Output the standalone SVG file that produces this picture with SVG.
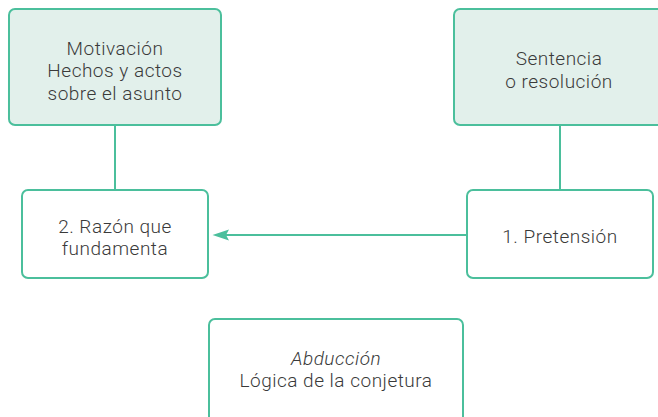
<svg xmlns="http://www.w3.org/2000/svg" width="658" height="417" viewBox="0 0 658 417">
<style>
.box{stroke:#4bbf9c;stroke-width:2;}
.fill{fill:#e2f0eb;}
.white{fill:#ffffff;}
.t{font-family:Roboto,"Liberation Sans",sans-serif;font-weight:300;font-size:19px;fill:#3a3a3a;text-anchor:middle;letter-spacing:0.5px;}
.line{stroke:#4bbf9c;stroke-width:2;fill:none;}
</style>
<rect width="658" height="417" fill="#ffffff"/>
<g id="connectors">
<line class="line" x1="115" y1="125" x2="115" y2="190"/>
<line class="line" x1="560" y1="125" x2="560" y2="190"/>
<line class="line" x1="466" y1="235" x2="226" y2="235"/>
<path d="M212.5,235 L229,229.5 L226,235 L229,240.5 Z" fill="#4bbf9c"/>
</g>
<g id="n1">
<rect class="box fill" x="9" y="9" width="212" height="116" rx="6"/>
<text class="t" x="115" y="54.5">Motivación</text>
<text class="t" x="115" y="77">Hechos y actos</text>
<text class="t" x="115" y="99.5">sobre el asunto</text>
</g>
<g id="n2">
<rect class="box fill" x="454" y="9" width="212" height="116" rx="6"/>
<text class="t" x="559" y="65">Sentencia</text>
<text class="t" x="559" y="87.5">o resolución</text>
</g>
<g id="n3">
<rect class="box white" x="22" y="190" width="186" height="88" rx="6"/>
<text class="t" x="115" y="232.5">2. Razón que</text>
<text class="t" x="115" y="255">fundamenta</text>
</g>
<g id="n4">
<rect class="box white" x="467" y="190" width="186" height="88" rx="6"/>
<text class="t" x="560" y="243">1. Pretensión</text>
</g>
<g id="n5">
<rect class="box white" x="209" y="319" width="254" height="110" rx="6"/>
<text class="t" x="336" y="364.5" font-style="italic">Abducción</text>
<text class="t" x="336" y="387">Lógica de la conjetura</text>
</g>
</svg>
